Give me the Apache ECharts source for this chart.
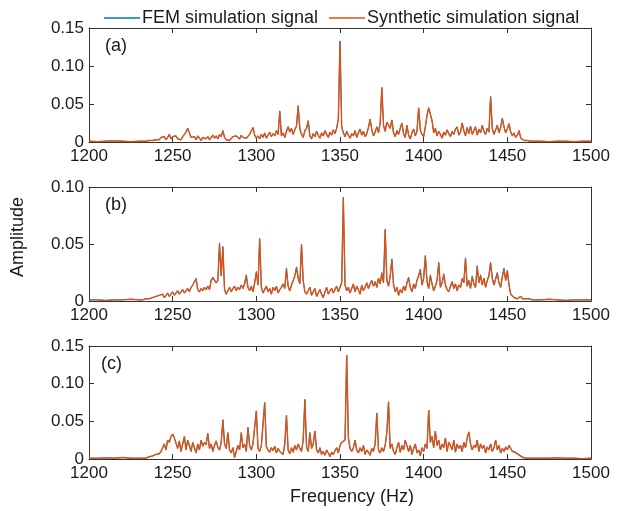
<!DOCTYPE html>
<html>
<head>
<meta charset="utf-8">
<script src="https://cdn.jsdelivr.net/npm/echarts@6/dist/echarts.min.js"></script>
<style>
html,body{margin:0;padding:0;background:#fff;}
#chart{width:617px;height:511px;}
</style>
</head>
<body>
<div id="chart"></div>
<script>
// Frequency samples (Hz)
const freq = [1200,1205,1210,1215,1220,1225,1230,
1231,1232,1233,1234,1235,1236,1237,1238,1239,1240,
1241,1242,1243,1244,1245,1246,1247,1248,1249,1250,
1251,1252,1253,1254,1255,1256,1257,1258,1259,1260,
1261,1262,1263,1264,1265,1266,1267,1268,1269,1270,
1271,1272,1273,1274,1275,1276,1277,1278,1279,1280,
1281,1282,1283,1284,1285,1286,1287,1288,1289,1290,
1291,1292,1293,1294,1295,1296,1297,1298,1299,1300,
1301,1302,1303,1304,1305,1306,1307,1308,1309,1310,
1311,1312,1313,1314,1315,1316,1317,1318,1319,1320,
1321,1322,1323,1324,1325,1326,1327,1328,1329,1330,
1331,1332,1333,1334,1335,1336,1337,1338,1339,1340,
1341,1342,1343,1344,1345,1346,1347,1348,1349,1350,
1351,1352,1353,1354,1355,1356,1357,1358,1359,1360,
1361,1362,1363,1364,1365,1366,1367,1368,1369,1370,
1371,1372,1373,1374,1375,1376,1377,1378,1379,1380,
1381,1382,1383,1384,1385,1386,1387,1388,1389,1390,
1391,1392,1393,1394,1395,1396,1397,1398,1399,1400,
1401,1402,1403,1404,1405,1406,1407,1408,1409,1410,
1411,1412,1413,1414,1415,1416,1417,1418,1419,1420,
1421,1422,1423,1424,1425,1426,1427,1428,1429,1430,
1431,1432,1433,1434,1435,1436,1437,1438,1439,1440,
1441,1442,1443,1444,1445,1446,1447,1448,1449,1450,
1451,1452,1453,1454,1455,1456,1457,1458,1459,1460,
1461,1462,1463,1464,1465,
1470,1475,1480,1485,1490,1495,1500];

// Panel (a)
const synA = [0.001,0.0005,0.001,0.0015,0.001,0.0005,0.001,
0.001,0.001,0.002,0.001,0.002,0.002,0.003,0.002,0.004,0.003,
0.005,0.003,0.006,0.004,0.007,0.003,0.006,0.01,0.004,0.007,
0.005,0.008,0.004,0.006,0.003,0.007,0.009,0.013,0.018,0.012,
0.006,0.004,0.007,0.003,0.008,0.005,0.002,0.006,0.008,0.004,
0.007,0.003,0.006,0.009,0.005,0.008,0.004,0.01,0.007,0.015,
0.006,0.003,0.005,0.002,0.004,0.007,0.005,0.008,0.006,0.004,
0.009,0.006,0.008,0.005,0.007,0.01,0.012,0.019,0.009,0.005,
0.008,0.004,0.01,0.006,0.012,0.005,0.009,0.013,0.007,0.011,
0.008,0.015,0.01,0.04,0.008,0.012,0.006,0.014,0.02,0.013,
0.018,0.01,0.016,0.021,0.047,0.017,0.01,0.006,0.015,0.018,
0.028,0.008,0.004,0.011,0.007,0.014,0.009,0.005,0.012,0.008,
0.015,0.01,0.006,0.013,0.009,0.016,0.011,0.018,0.03,0.132,
0.02,0.012,0.007,0.014,0.009,0.005,0.011,0.008,0.015,0.006,
0.012,0.017,0.009,0.014,0.007,0.011,0.019,0.03,0.016,0.008,
0.013,0.02,0.012,0.025,0.071,0.022,0.014,0.026,0.028,0.018,
0.029,0.012,0.007,0.015,0.01,0.018,0.025,0.011,0.006,0.022,
0.009,0.004,0.012,0.017,0.008,0.014,0.045,0.016,0.01,0.007,
0.02,0.035,0.045,0.046,0.028,0.012,0.018,0.008,0.014,0.01,
0.005,0.013,0.009,0.016,0.011,0.007,0.014,0.01,0.017,0.02,
0.009,0.013,0.025,0.015,0.008,0.019,0.011,0.021,0.01,0.015,
0.02,0.009,0.017,0.012,0.022,0.014,0.01,0.018,0.013,0.059,
0.018,0.01,0.016,0.022,0.012,0.019,0.031,0.02,0.012,0.017,
0.024,0.013,0.008,0.012,0.006,0.009,0.015,0.005,0.003,0.002,
0.001,0.002,0.001,0.001,0.001,
0.001,0.0005,0.001,0.001,0.0005,0.001,0.001];

const femA = [0.001,0.0005,0.001,0.0015,0.001,0.0005,0.001,
0.001,0.001,0.002,0.001,0.002,0.002,0.003,0.002,0.004,0.003,
0.005,0.003,0.006,0.004,0.007,0.003,0.006,0.01,0.004,0.007,
0.005,0.008,0.004,0.006,0.003,0.007,0.009,0.013,0.018,0.012,
0.006,0.004,0.007,0.003,0.008,0.005,0.002,0.006,0.008,0.004,
0.007,0.003,0.006,0.009,0.005,0.008,0.004,0.01,0.007,0.015,
0.006,0.003,0.005,0.002,0.004,0.007,0.005,0.008,0.006,0.004,
0.009,0.006,0.008,0.005,0.007,0.01,0.012,0.019,0.009,0.005,
0.008,0.004,0.01,0.006,0.012,0.005,0.009,0.013,0.007,0.011,
0.008,0.015,0.01,0.041,0.008,0.012,0.006,0.014,0.02,0.013,
0.018,0.01,0.016,0.021,0.048,0.017,0.01,0.006,0.015,0.018,
0.028,0.008,0.004,0.011,0.007,0.014,0.009,0.005,0.012,0.008,
0.015,0.01,0.006,0.013,0.009,0.016,0.011,0.018,0.03,0.133,
0.02,0.012,0.007,0.014,0.009,0.005,0.011,0.008,0.015,0.006,
0.012,0.017,0.009,0.014,0.007,0.011,0.019,0.03,0.016,0.008,
0.013,0.02,0.012,0.025,0.072,0.022,0.014,0.026,0.028,0.018,
0.029,0.012,0.007,0.015,0.01,0.018,0.025,0.011,0.006,0.022,
0.009,0.004,0.012,0.017,0.008,0.014,0.045,0.016,0.01,0.007,
0.02,0.035,0.045,0.046,0.028,0.012,0.018,0.008,0.014,0.01,
0.005,0.013,0.009,0.016,0.011,0.007,0.014,0.01,0.017,0.02,
0.009,0.013,0.025,0.015,0.008,0.019,0.011,0.021,0.01,0.015,
0.02,0.009,0.017,0.012,0.022,0.014,0.01,0.018,0.013,0.06,
0.018,0.01,0.016,0.022,0.012,0.019,0.031,0.02,0.012,0.017,
0.024,0.013,0.008,0.012,0.006,0.009,0.015,0.005,0.003,0.002,
0.001,0.002,0.001,0.001,0.001,
0.001,0.0005,0.001,0.001,0.0005,0.001,0.001];

// Panel (b)
const synB = [0.001,0.001,0.0005,0.001,0.001,0.0015,0.001,
0.001,0.001,0.001,0.002,0.001,0.002,0.002,0.003,0.002,0.004,
0.003,0.005,0.004,0.006,0.003,0.005,0.007,0.004,0.006,0.008,
0.005,0.007,0.009,0.006,0.008,0.01,0.007,0.009,0.011,0.008,
0.012,0.014,0.017,0.019,0.01,0.008,0.011,0.009,0.012,0.01,
0.013,0.01,0.018,0.02,0.021,0.016,0.018,0.05,0.022,0.047,
0.01,0.006,0.009,0.012,0.008,0.011,0.013,0.009,0.012,0.01,
0.014,0.011,0.015,0.022,0.012,0.009,0.013,0.008,0.016,0.025,
0.014,0.054,0.012,0.007,0.01,0.013,0.008,0.011,0.006,0.012,
0.009,0.013,0.007,0.01,0.012,0.015,0.011,0.028,0.013,0.009,
0.014,0.018,0.022,0.029,0.02,0.015,0.049,0.018,0.008,0.006,
0.009,0.012,0.005,0.008,0.011,0.004,0.007,0.01,0.006,0.003,
0.008,0.012,0.006,0.009,0.011,0.007,0.01,0.013,0.008,0.012,
0.016,0.089,0.014,0.009,0.012,0.007,0.011,0.015,0.008,0.013,
0.01,0.006,0.014,0.009,0.012,0.016,0.011,0.015,0.018,0.013,
0.017,0.012,0.02,0.015,0.024,0.016,0.062,0.018,0.013,0.022,
0.036,0.014,0.008,0.012,0.005,0.01,0.007,0.013,0.009,0.016,
0.02,0.012,0.008,0.015,0.011,0.018,0.022,0.027,0.014,0.02,
0.039,0.017,0.011,0.022,0.015,0.009,0.013,0.018,0.033,0.012,
0.016,0.023,0.014,0.01,0.008,0.013,0.017,0.011,0.015,0.009,
0.014,0.012,0.019,0.016,0.037,0.013,0.018,0.011,0.021,0.015,
0.012,0.03,0.016,0.022,0.014,0.02,0.012,0.018,0.022,0.033,
0.02,0.014,0.019,0.024,0.016,0.012,0.021,0.028,0.018,0.026,
0.014,0.006,0.005,0.003,0.004,0.002,0.003,0.004,0.002,0.003,
0.002,0.001,0.002,0.001,0.001,
0.001,0.0015,0.001,0.0005,0.001,0.001,0.001];

const femB = [0.001,0.001,0.0005,0.001,0.001,0.0015,0.001,
0.001,0.001,0.001,0.002,0.001,0.002,0.002,0.003,0.002,0.004,
0.003,0.005,0.004,0.006,0.003,0.005,0.007,0.004,0.006,0.008,
0.005,0.007,0.009,0.006,0.008,0.01,0.007,0.009,0.011,0.008,
0.012,0.014,0.017,0.02,0.01,0.008,0.011,0.009,0.012,0.01,
0.013,0.01,0.018,0.021,0.022,0.016,0.018,0.051,0.022,0.048,
0.01,0.006,0.009,0.012,0.008,0.011,0.013,0.009,0.012,0.01,
0.014,0.011,0.015,0.023,0.012,0.009,0.013,0.008,0.016,0.026,
0.014,0.055,0.012,0.007,0.01,0.013,0.008,0.011,0.006,0.012,
0.009,0.013,0.007,0.01,0.012,0.015,0.011,0.029,0.013,0.009,
0.014,0.018,0.022,0.03,0.02,0.015,0.05,0.018,0.008,0.006,
0.009,0.012,0.005,0.008,0.011,0.004,0.007,0.01,0.006,0.003,
0.008,0.012,0.006,0.009,0.011,0.007,0.01,0.013,0.008,0.012,
0.016,0.091,0.014,0.009,0.012,0.007,0.011,0.015,0.008,0.013,
0.01,0.006,0.014,0.009,0.012,0.016,0.011,0.015,0.018,0.013,
0.017,0.012,0.02,0.015,0.025,0.016,0.063,0.018,0.013,0.022,
0.037,0.014,0.008,0.012,0.005,0.01,0.007,0.013,0.009,0.016,
0.021,0.012,0.008,0.015,0.011,0.018,0.023,0.028,0.014,0.02,
0.04,0.017,0.011,0.023,0.015,0.009,0.013,0.018,0.034,0.012,
0.016,0.024,0.014,0.01,0.008,0.013,0.017,0.011,0.015,0.009,
0.014,0.012,0.02,0.016,0.038,0.013,0.018,0.011,0.022,0.015,
0.012,0.031,0.016,0.023,0.014,0.02,0.012,0.018,0.023,0.034,
0.02,0.014,0.02,0.025,0.016,0.012,0.022,0.029,0.018,0.027,
0.014,0.006,0.005,0.003,0.004,0.002,0.003,0.004,0.002,0.003,
0.002,0.001,0.002,0.001,0.001,
0.001,0.0015,0.001,0.0005,0.001,0.001,0.001];

// Panel (c)
const synC = [0.001,0.001,0.0015,0.001,0.002,0.001,0.001,
0.001,0.001,0.002,0.001,0.001,0.003,0.002,0.004,0.003,0.006,
0.004,0.007,0.01,0.015,0.02,0.012,0.025,0.022,0.03,0.033,
0.028,0.03,0.014,0.024,0.01,0.02,0.03,0.012,0.025,0.018,
0.01,0.022,0.015,0.008,0.02,0.012,0.025,0.017,0.022,0.019,
0.034,0.014,0.02,0.01,0.018,0.024,0.015,0.012,0.022,0.052,
0.02,0.014,0.035,0.012,0.008,0.015,0.002,0.01,0.018,0.012,
0.035,0.015,0.02,0.01,0.042,0.018,0.012,0.02,0.022,0.064,
0.014,0.01,0.018,0.02,0.075,0.016,0.012,0.009,0.015,0.011,
0.017,0.008,0.014,0.01,0.012,0.006,0.02,0.058,0.012,0.007,
0.015,0.009,0.018,0.012,0.02,0.014,0.01,0.025,0.079,0.016,
0.01,0.035,0.014,0.02,0.037,0.012,0.008,0.015,0.006,0.01,
0.005,0.012,0.008,0.003,0.009,0.006,0.011,0.015,0.008,0.018,
0.022,0.02,0.025,0.138,0.028,0.014,0.01,0.015,0.025,0.012,
0.008,0.015,0.01,0.018,0.006,0.012,0.009,0.005,0.014,0.01,
0.02,0.061,0.012,0.008,0.015,0.01,0.018,0.035,0.076,0.014,
0.02,0.01,0.006,0.015,0.022,0.009,0.018,0.012,0.025,0.027,
0.01,0.018,0.006,0.014,0.02,0.008,0.012,0.004,0.015,0.01,
0.02,0.014,0.065,0.022,0.03,0.015,0.037,0.018,0.025,0.012,
0.02,0.015,0.028,0.01,0.022,0.018,0.012,0.025,0.009,0.02,
0.014,0.018,0.01,0.022,0.015,0.028,0.036,0.02,0.012,0.018,
0.015,0.025,0.01,0.02,0.014,0.018,0.008,0.016,0.012,0.02,
0.01,0.015,0.025,0.012,0.018,0.008,0.014,0.01,0.016,0.012,
0.018,0.014,0.01,0.012,0.008,0.006,0.005,0.003,0.002,0.002,
0.001,0.001,0.001,0.001,0.001,
0.001,0.001,0.0015,0.001,0.001,0.0005,0.001];

const femC = [0.001,0.001,0.0015,0.001,0.002,0.001,0.001,
0.001,0.001,0.002,0.001,0.001,0.003,0.002,0.004,0.003,0.006,
0.004,0.007,0.01,0.015,0.02,0.012,0.025,0.022,0.03,0.033,
0.028,0.03,0.014,0.024,0.01,0.02,0.03,0.012,0.025,0.018,
0.01,0.022,0.015,0.008,0.02,0.012,0.025,0.017,0.022,0.019,
0.034,0.014,0.02,0.01,0.018,0.024,0.015,0.012,0.022,0.052,
0.02,0.014,0.035,0.012,0.008,0.015,0.002,0.01,0.018,0.012,
0.035,0.015,0.02,0.01,0.042,0.018,0.012,0.02,0.022,0.064,
0.014,0.01,0.018,0.02,0.075,0.016,0.012,0.009,0.015,0.011,
0.017,0.008,0.014,0.01,0.012,0.006,0.02,0.058,0.012,0.007,
0.015,0.009,0.018,0.012,0.02,0.014,0.01,0.025,0.079,0.016,
0.01,0.035,0.014,0.02,0.037,0.012,0.008,0.015,0.006,0.01,
0.005,0.012,0.008,0.003,0.009,0.006,0.011,0.015,0.008,0.018,
0.022,0.02,0.025,0.138,0.028,0.014,0.01,0.015,0.025,0.012,
0.008,0.015,0.01,0.018,0.006,0.012,0.009,0.005,0.014,0.01,
0.02,0.061,0.012,0.008,0.015,0.01,0.018,0.035,0.076,0.014,
0.02,0.01,0.006,0.015,0.022,0.009,0.018,0.012,0.025,0.027,
0.01,0.018,0.006,0.014,0.02,0.008,0.012,0.004,0.015,0.01,
0.02,0.014,0.065,0.022,0.03,0.015,0.037,0.018,0.025,0.012,
0.02,0.015,0.028,0.01,0.022,0.018,0.012,0.025,0.009,0.02,
0.014,0.018,0.01,0.022,0.015,0.028,0.036,0.02,0.012,0.018,
0.015,0.025,0.01,0.02,0.014,0.018,0.008,0.016,0.012,0.02,
0.01,0.015,0.025,0.012,0.018,0.008,0.014,0.01,0.016,0.012,
0.018,0.014,0.011,0.013,0.009,0.007,0.006,0.004,0.003,0.002,
0.001,0.001,0.001,0.001,0.001,
0.001,0.001,0.0015,0.001,0.001,0.0005,0.001];

const seriesNames = ['FEM simulation signal', 'Synthetic simulation signal'];
const panelLabels = ['(a)', '(b)', '(c)'];
const yMaxes = [0.15, 0.10, 0.15];
const xMin = 1200, xMax = 1500, xStep = 50;

const FONT = '"Liberation Sans", Arial, sans-serif';
const AX = '#333333';
const TXT = '#1a1a1a';
const BLUE = '#0072BD';
const ORANGE = '#D95319';

const grids = [
  {left: 89, width: 502, top: 28, height: 114},
  {left: 89, width: 502, top: 187, height: 114},
  {left: 89, width: 502, top: 346, height: 113}
];

function pairs(ys) { return freq.map((f, i) => [f, ys[i]]); }
const femData = [femA, femB, femC];
const synData = [synA, synB, synC];

const xAxes = [], yAxes = [], series = [];
for (let i = 0; i < 3; i++) {
  xAxes.push({
    type: 'value', gridIndex: i, min: xMin, max: xMax, interval: xStep, position: 'bottom',
    axisLine: {show: true, lineStyle: {color: AX, width: 1}},
    axisTick: {show: true, inside: true, length: 5, lineStyle: {color: AX}},
    axisLabel: {show: true, color: TXT, fontSize: 17, fontFamily: FONT, margin: 6,
      formatter: v => String(v)},
    splitLine: {show: false}
  });
  yAxes.push({
    type: 'value', gridIndex: i, min: 0, max: yMaxes[i], interval: 0.05, position: 'left',
    axisLine: {show: true, lineStyle: {color: AX, width: 1}},
    axisTick: {show: true, inside: true, length: 5, lineStyle: {color: AX}},
    axisLabel: {show: true, color: TXT, fontSize: 17, fontFamily: FONT, margin: 5,
      formatter: v => (v === 0 ? '0' : v.toFixed(2))},
    splitLine: {show: false}
  });
}
for (let i = 0; i < 3; i++) {
  xAxes.push({
    type: 'value', gridIndex: i, min: xMin, max: xMax, interval: xStep, position: 'top',
    axisLine: {show: true, onZero: false, lineStyle: {color: AX, width: 1}},
    axisTick: {show: true, inside: true, length: 5, lineStyle: {color: AX}},
    axisLabel: {show: false}, splitLine: {show: false}
  });
  yAxes.push({
    type: 'value', gridIndex: i, min: 0, max: yMaxes[i], interval: 0.05, position: 'right',
    axisLine: {show: true, onZero: false, lineStyle: {color: AX, width: 1}},
    axisTick: {show: true, inside: true, length: 5, lineStyle: {color: AX}},
    axisLabel: {show: false}, splitLine: {show: false}
  });
}
for (let i = 0; i < 3; i++) {
  series.push({
    name: seriesNames[0], type: 'line', xAxisIndex: i, yAxisIndex: i,
    data: pairs(femData[i]), symbol: 'none', showSymbol: false,
    lineStyle: {color: BLUE, width: 1}, itemStyle: {color: BLUE}, z: 2
  });
  series.push({
    name: seriesNames[1], type: 'line', xAxisIndex: i, yAxisIndex: i,
    data: pairs(synData[i]), symbol: 'none', showSymbol: false,
    lineStyle: {color: ORANGE, width: 1.4}, itemStyle: {color: ORANGE}, z: 3
  });
}

const graphics = panelLabels.map((t, i) => ({
  type: 'text', left: 105 - (i === 2 ? 4 : 0), top: grids[i].top + 9,
  style: {text: t, font: '18px ' + FONT, fill: TXT}
}));
graphics.push({
  type: 'text', x: 352, y: 497,
  style: {text: 'Frequency (Hz)', font: '18px ' + FONT, fill: TXT, align: 'center', verticalAlign: 'middle'}
});
graphics.push({
  type: 'text', x: 18, y: 237, rotation: Math.PI / 2,
  style: {text: 'Amplitude', font: '18px ' + FONT, fill: TXT, align: 'center', verticalAlign: 'middle'}
});

const chart = echarts.init(document.getElementById('chart'), null, {renderer: 'canvas'});
chart.setOption({
  animation: false,
  backgroundColor: '#fff',
  legend: {
    show: true,
    data: [
      {name: seriesNames[0], icon: 'rect', itemStyle: {color: BLUE}},
      {name: seriesNames[1], icon: 'rect', itemStyle: {color: ORANGE}}
    ],
    left: 99, top: 4, itemWidth: 36, itemHeight: 1.5, itemGap: 11,
    textStyle: {fontSize: 18, fontFamily: FONT, color: TXT, padding: [0, 0, 0, -3]}
  },
  grid: grids,
  xAxis: xAxes,
  yAxis: yAxes,
  series: series,
  graphic: graphics
});
</script>
</body>
</html>
